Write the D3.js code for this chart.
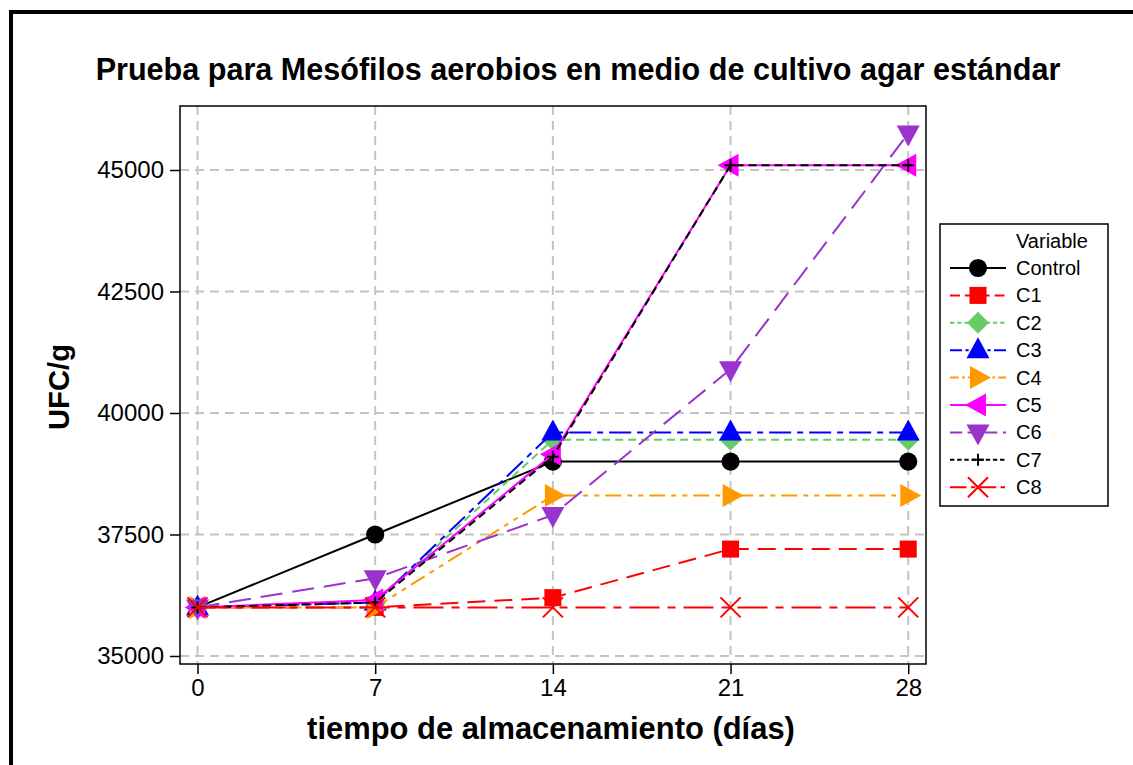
<!DOCTYPE html>
<html>
<head>
<meta charset="utf-8">
<script src="https://cdn.jsdelivr.net/npm/d3@7"></script>
<style>
  html, body { margin: 0; padding: 0; background: #fff; }
  svg { display: block; }
</style>
</head>
<body>
<svg id="chart" width="1133" height="765"></svg>
<script>
// Storage time (days) and aerobic mesophile counts per treatment
const days = [0, 7, 14, 21, 28];
const xTicks = [0, 7, 14, 21, 28];
const yTicks = [35000, 37500, 40000, 42500, 45000];

const control = [36000, 37500, 39000, 39000, 39000];
const c1 = [36000, 36000, 36200, 37200, 37200];
const c2 = [36000, 36100, 39450, 39450, 39450];
const c3 = [36000, 36100, 39600, 39600, 39600];
const c4 = [36000, 36000, 38300, 38300, 38300];
const c5 = [36000, 36150, 39150, 45100, 45100];
const c6 = [36000, 36600, 37900, 40900, 45750];
const c7 = [36000, 36100, 39100, 45100, 45100];
const c8 = [36000, 36000, 36000, 36000, 36000];

const seriesNames = ["Control", "C1", "C2", "C3", "C4", "C5", "C6", "C7", "C8"];
const seriesValues = [control, c1, c2, c3, c4, c5, c6, c7, c8];

const styles = {
  Control: { color: "#000000", dash: null, marker: "circle" },
  C1: { color: "#ff0000", dash: "18 9", marker: "square" },
  C2: { color: "#66cc66", dash: "8 5", marker: "diamond" },
  C3: { color: "#0000ff", dash: "22 6 6 6", marker: "triUp" },
  C4: { color: "#ff9900", dash: "16 6 5 6 5 6", marker: "triRight" },
  C5: { color: "#ff00ff", dash: null, marker: "triLeft" },
  C6: { color: "#9933cc", dash: "22 10", marker: "triDown" },
  C7: { color: "#000000", dash: "8 5", marker: "plus" },
  C8: { color: "#ff0000", dash: "30 8 8 8", marker: "cross" }
};

const svg = d3.select("#chart");
const regFont = "'Liberation Sans', Arial, sans-serif";
const boldFont = "'Liberation Sans', Arial, sans-serif";

// Outer frame
svg.append("rect")
  .attr("x", 11).attr("y", 12).attr("width", 1300).attr("height", 900)
  .attr("fill", "none").attr("stroke", "#000").attr("stroke-width", 4);

const plot = { left: 180, top: 106, right: 926, bottom: 664 };

const x = d3.scaleLinear().domain([-0.69, 28.7]).range([plot.left, plot.right]);
const y = d3.scaleLinear().domain([34835, 46317]).range([plot.bottom, plot.top]);

// Grid
const grid = svg.append("g");
grid.selectAll("line.gx").data(xTicks).join("line")
  .attr("x1", d => x(d)).attr("x2", d => x(d))
  .attr("y1", plot.top).attr("y2", plot.bottom)
  .attr("stroke", "#c4c4c4").attr("stroke-width", 2).attr("stroke-dasharray", "9 6");
grid.selectAll("line.gy").data(yTicks).join("line")
  .attr("x1", plot.left).attr("x2", plot.right)
  .attr("y1", d => y(d)).attr("y2", d => y(d))
  .attr("stroke", "#c4c4c4").attr("stroke-width", 2).attr("stroke-dasharray", "9 6");

// Plot border
svg.append("rect")
  .attr("x", plot.left).attr("y", plot.top)
  .attr("width", plot.right - plot.left).attr("height", plot.bottom - plot.top)
  .attr("fill", "none").attr("stroke", "#000").attr("stroke-width", 1.5);

// Axes
const xAxis = svg.append("g")
  .attr("transform", `translate(0,${plot.bottom})`)
  .call(d3.axisBottom(x).tickValues(xTicks).tickSize(10).tickPadding(5).tickFormat(d3.format("d")));
const yAxis = svg.append("g")
  .attr("transform", `translate(${plot.left},0)`)
  .call(d3.axisLeft(y).tickValues(yTicks).tickSize(10).tickPadding(6).tickFormat(d3.format("d")));
[xAxis, yAxis].forEach(a => {
  a.select(".domain").remove();
  a.selectAll(".tick line").attr("stroke", "#000").attr("stroke-width", 1.5);
  a.selectAll(".tick text").attr("fill", "#000")
    .style("font-family", regFont).style("font-size", "24px");
});

// Marker shapes
function markerPath(kind) {
  const sym = (t, s) => d3.symbol().type(t).size(s)();
  switch (kind) {
    case "circle": return { d: sym(d3.symbolCircle, 260), rot: 0 };
    case "square": return { d: sym(d3.symbolSquare, 290), rot: 0 };
    case "diamond": return { d: "M0,-11L11,0L0,11L-11,0Z", rot: 0 };
    case "triUp": return { d: "M0,-13L11.5,8L-11.5,8Z", rot: 0 };
    case "triRight": return { d: "M0,-13L11.5,8L-11.5,8Z", rot: 90 };
    case "triLeft": return { d: "M0,-13L11.5,8L-11.5,8Z", rot: -90 };
    case "triDown": return { d: "M0,-13L11.5,8L-11.5,8Z", rot: 180 };
    case "plus": return { d: "M-6,0L6,0M0,-6L0,6", rot: 0, stroke: true };
    case "cross": return { d: "M-10,-10L10,10M10,-10L-10,10", rot: 0, stroke: true };
  }
}

function drawMarker(g, kind, color, cx, cy) {
  const m = markerPath(kind);
  const p = g.append("path")
    .attr("d", m.d)
    .attr("transform", `translate(${cx},${cy}) rotate(${m.rot})`);
  if (m.stroke) {
    p.attr("fill", "none").attr("stroke", color).attr("stroke-width", 2);
  } else {
    p.attr("fill", color).attr("stroke", "none");
  }
}

// Series lines and markers
const line = d3.line().x((d, i) => x(days[i])).y(d => y(d));
seriesNames.forEach((name, k) => {
  const st = styles[name];
  const g = svg.append("g");
  g.append("path")
    .datum(seriesValues[k])
    .attr("d", line)
    .attr("fill", "none")
    .attr("stroke", st.color)
    .attr("stroke-width", 2)
    .attr("stroke-dasharray", st.dash);
  seriesValues[k].forEach((v, i) => drawMarker(g, st.marker, st.color, x(days[i]), y(v)));
});

// Legend
const lg = svg.append("g");
lg.append("rect")
  .attr("x", 940).attr("y", 224).attr("width", 168).attr("height", 282)
  .attr("fill", "#fff").attr("stroke", "#000").attr("stroke-width", 1.5);
lg.append("text")
  .attr("x", 1016).attr("y", 248)
  .style("font-family", regFont).style("font-size", "20px")
  .text("Variable");
seriesNames.forEach((name, k) => {
  const st = styles[name];
  const cy = 268 + k * 27.4;
  lg.append("line")
    .attr("x1", 950).attr("x2", 1006).attr("y1", cy).attr("y2", cy)
    .attr("stroke", st.color).attr("stroke-width", 2)
    .attr("stroke-dasharray", st.dash ? st.dash.split(" ").map(v => v * 0.55).join(" ") : null);
  drawMarker(lg, st.marker, st.color, 978, cy);
  lg.append("text")
    .attr("x", 1016).attr("y", cy + 7)
    .style("font-family", regFont).style("font-size", "20px")
    .text(name);
});

// Titles
function fitText(sel, width) {
  const w = sel.node().getComputedTextLength();
  const fs = parseFloat(sel.style("font-size"));
  sel.style("font-size", (fs * width / w) + "px");
}
const title = svg.append("text")
  .attr("x", 578).attr("y", 80).attr("text-anchor", "middle")
  .style("font-family", boldFont).style("font-weight", "bold").style("font-size", "28px")
  .text("Prueba para Mesófilos aerobios en medio de cultivo agar estándar");
fitText(title, 965);

const xTitle = svg.append("text")
  .attr("x", 551).attr("y", 739).attr("text-anchor", "middle")
  .style("font-family", boldFont).style("font-weight", "bold").style("font-size", "28px")
  .text("tiempo de almacenamiento (días)");
fitText(xTitle, 488);

const yTitle = svg.append("text")
  .attr("transform", "translate(69,387) rotate(-90)").attr("text-anchor", "middle")
  .style("font-family", boldFont).style("font-weight", "bold").style("font-size", "28px")
  .text("UFC/g");
fitText(yTitle, 86);
</script>
</body>
</html>
